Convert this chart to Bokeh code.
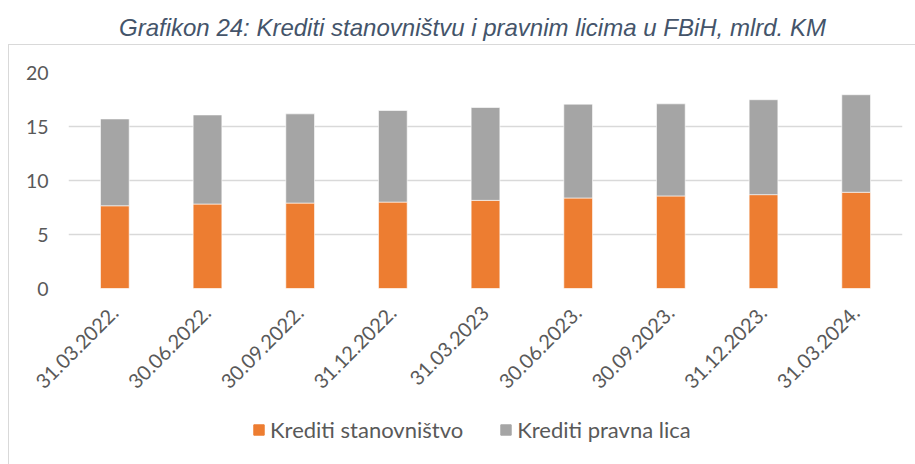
from bokeh.plotting import figure
from bokeh.models import (FactorRange, Range1d, FixedTicker, Legend, LegendItem,
                          Label, ColumnDataSource)
from bokeh.layouts import column
from bokeh.embed import file_html
from bokeh.resources import INLINE
from math import pi

# ---- data ----
dates = ["31.03.2022.", "30.06.2022.", "30.09.2022.", "31.12.2022.", "31.03.2023",
         "30.06.2023.", "30.09.2023.", "31.12.2023.", "31.03.2024."]
krediti_stanovnistvo = [7.66, 7.82, 7.91, 8.00, 8.16, 8.38, 8.57, 8.69, 8.91]
krediti_pravna_lica = [8.04, 8.25, 8.26, 8.48, 8.60, 8.69, 8.53, 8.79, 9.03]
y_ticks = [0, 5, 10, 15, 20]
series_names = ["Krediti stanovništvo", "Krediti pravna lica"]
colors = ["#ED7D31", "#A5A5A5"]
title_text = "Grafikon 24: Krediti stanovništvu i pravnim licima u FBiH, mlrd. KM"

TICK_FONT = "Lato"
TICK_COLOR = "#595959"
BOX = "1px solid #D9D9D9"
LEFT_BORDER = 59

# ---- title strip (page y 0..44); its frame is aligned with the chart frame ----
tf = figure(width=915, height=44, toolbar_location=None, output_backend="svg", title=None,
            x_axis_type=None, y_axis_type=None,
            x_range=Range1d(LEFT_BORDER, 915), y_range=Range1d(0, 44),
            min_border_left=0, min_border_right=0, min_border_top=0, min_border_bottom=0)
tf.outline_line_color = None
tf.background_fill_color = "white"
tf.border_fill_color = "white"
tf.xgrid.visible = False
tf.ygrid.visible = False
tf.add_layout(Label(x=119.5, y=17, text=title_text,
                    text_align="left", text_baseline="alphabetic",
                    text_font="Liberation Sans", text_font_style="italic",
                    text_font_size="24px", text_color="#44546A"))

# ---- main chart (page y 44..405, x 8..915) ----
source = ColumnDataSource(dict(dates=dates, s=krediti_stanovnistvo, p=krediti_pravna_lica))

p = figure(width=907, height=361, toolbar_location=None, output_backend="svg", title=None,
           x_range=FactorRange(*dates, range_padding=0), y_range=Range1d(0, 20),
           min_border_left=LEFT_BORDER, min_border_right=14, min_border_top=27,
           min_border_bottom=118)
p.margin = (0, 0, 0, 8)
p.styles = {"border-top": BOX, "border-left": BOX}
p.outline_line_color = None
p.background_fill_color = "white"
p.border_fill_color = "white"

rs = p.vbar_stack(["s", "p"], x="dates", width=0.31, source=source,
                  color=colors, line_color="white", line_width=0.6)

p.xgrid.visible = False
p.ygrid.grid_line_color = "#D9D9D9"
p.ygrid.grid_line_width = 1.3
p.yaxis.ticker = FixedTicker(ticks=y_ticks)

for ax in (p.xaxis[0], p.yaxis[0]):
    ax.axis_line_color = None
    ax.major_tick_line_color = None
    ax.minor_tick_line_color = None
    ax.major_tick_out = 0
    ax.major_tick_in = 0
    ax.major_label_text_font = TICK_FONT
    ax.major_label_text_color = TICK_COLOR

p.yaxis.major_label_text_font_size = "19.5px"
p.xaxis.major_label_text_font_size = "20px"
p.yaxis.major_label_standoff = 20
p.xaxis.major_label_standoff = 21
p.xaxis.major_label_orientation = pi / 4

# ---- legend strip (page y 405..464) ----
lf = figure(width=907, height=59, toolbar_location=None, output_backend="svg", title=None,
            x_axis_type=None, y_axis_type=None,
            x_range=FactorRange(*dates, range_padding=0), y_range=Range1d(100, 101),
            min_border_left=0, min_border_right=0, min_border_top=0, min_border_bottom=0)
lf.margin = (0, 0, 0, 8)
lf.styles = {"border-left": BOX}
lf.outline_line_color = None
lf.background_fill_color = "white"
lf.border_fill_color = "white"
lf.xgrid.visible = False
lf.ygrid.visible = False
lrs = lf.vbar_stack(["s", "p"], x="dates", width=0.31, source=source, color=colors)

legend = Legend(items=[LegendItem(label=series_names[i], renderers=[lrs[i]]) for i in range(2)],
                orientation="horizontal", location=(184, 21),
                glyph_width=13, glyph_height=13, label_height=20, label_standoff=5,
                spacing=36, padding=0, margin=0, border_line_color=None,
                background_fill_alpha=0,
                label_text_font=TICK_FONT, label_text_font_size="22px",
                label_text_color=TICK_COLOR)
lf.add_layout(legend, "center")

layout = column(tf, p, lf, spacing=0)

with open("out.html", "w") as f:
    f.write(file_html(layout, INLINE))
